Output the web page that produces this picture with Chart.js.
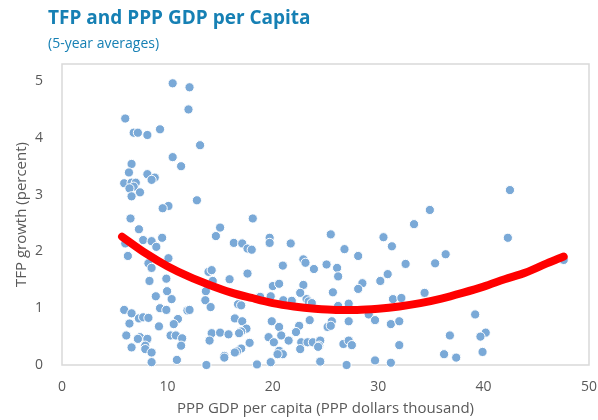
<!DOCTYPE html>
<html>
<head>
<meta charset="utf-8">
<script src="https://cdn.jsdelivr.net/npm/chart.js@4.4.1/dist/chart.umd.min.js"></script>
<style>
html,body{margin:0;padding:0;background:#fff;}
#wrap{width:598px;height:420px;position:relative;}
</style>
</head>
<body>
<div id="wrap"><canvas id="c" width="598" height="420"></canvas></div>
<script>
// ---- Data ----
const chartTitle = "TFP and PPP GDP per Capita";
const chartSubtitle = "(5-year averages)";
const xAxisTitle = "PPP GDP per capita (PPP dollars thousand)";
const yAxisTitle = "TFP growth (percent)";

const xTicks = [0, 10, 20, 30, 40, 50];
const yTicks = [0, 1, 2, 3, 4, 5];

// Scatter: GDP per capita (thousand PPP $)
const gdpX = [
 10.5, 6.0, 6.8, 7.2, 8.1, 9.3, 12.0, 12.1, 13.1, 10.5, 11.3, 6.6, 6.35, 8.1, 8.8, 8.5, 5.9, 6.6, 7.0, 6.8,
 6.4, 7.4, 6.6, 10.1, 9.55, 6.5, 7.3, 7.7, 8.5, 9.5, 8.95, 6.0, 6.25, 8.2, 8.5, 10.1, 8.3, 9.9, 8.9, 9.97,
 10.4, 9.3, 9.9, 5.9, 6.6, 7.3, 7.7, 8.2, 6.4, 11.0, 10.6, 9.2, 6.1, 7.4, 7.2, 8.1, 10.3, 10.8, 11.4, 7.9,
 7.9, 6.6, 8.5, 11.3, 8.5, 10.9, 12.8, 18.1, 15.0, 14.6, 16.3, 17.1, 17.6, 18.0, 19.7, 19.7, 21.7, 22.9, 20.95, 13.9,
 14.2, 14.3, 17.6, 15.9, 13.65, 13.6, 14.1, 20.0, 20.6, 19.8, 18.8, 16.7, 17.0, 21.0, 21.8, 22.9, 23.2, 11.9, 12.1, 16.4,
 17.1, 17.5, 17.0, 16.8, 19.9, 20.6, 22.5, 20.8, 19.6, 20.1, 22.2, 21.5, 22.7, 22.6, 14.2, 14.0, 15.0, 15.8, 17.8, 17.0,
 16.6, 16.4, 15.4, 15.4, 13.7, 18.5, 19.8, 20.6, 20.95, 20.45, 33.4, 25.5, 30.5, 31.3, 26.8, 28.1, 23.1, 25.1, 23.9, 26.1,
 26.2, 32.6, 30.9, 30.2, 28.5, 28.1, 22.6, 25.7, 23.4, 23.7, 26.2, 27.2, 31.4, 32.2, 34.4, 29.1, 29.7, 23.5, 25.6, 27.2,
 25.2, 25.5, 31.2, 32.0, 23.3, 23.8, 24.5, 24.4, 24.3, 26.7, 27.2, 27.5, 32.0, 24.5, 27.0, 29.7, 31.2, 42.5, 34.9, 42.3,
 36.4, 35.4, 47.6, 39.2, 36.8, 40.2, 39.7, 36.25, 37.4, 39.9
];
// Scatter: TFP growth (percent)
const tfpY = [
 4.96, 4.34, 4.09, 4.09, 4.05, 4.15, 4.50, 4.89, 3.87, 3.66, 3.50, 3.54, 3.39, 3.36, 3.30, 3.26, 3.20, 3.21, 3.21, 3.14,
 3.11, 3.04, 2.97, 2.80, 2.76, 2.58, 2.39, 2.20, 2.18, 2.24, 2.08, 2.14, 1.92, 1.79, 1.71, 1.88, 1.48, 1.52, 1.21, 1.30,
 1.16, 1.00, 0.97, 0.97, 0.91, 0.82, 0.84, 0.83, 0.73, 0.81, 0.72, 0.68, 0.52, 0.49, 0.46, 0.46, 0.52, 0.52, 0.47, 0.34,
 0.28, 0.31, 0.22, 0.34, 0.05, 0.09, 2.90, 2.58, 2.42, 2.27, 2.15, 2.14, 2.05, 2.03, 2.24, 2.15, 2.14, 1.86, 1.75, 1.64,
 1.67, 1.48, 1.61, 1.51, 1.30, 1.14, 1.02, 1.39, 1.43, 1.21, 1.20, 1.07, 1.05, 1.14, 1.13, 1.41, 1.16, 0.96, 0.97, 0.82,
 0.77, 0.64, 0.59, 0.56, 0.77, 0.67, 0.69, 0.52, 0.49, 0.40, 0.58, 0.43, 0.40, 0.28, 0.56, 0.43, 0.57, 0.54, 0.39, 0.29,
 0.24, 0.22, 0.16, 0.13, 0.00, 0.01, 0.05, 0.25, 0.19, 0.19, 2.48, 2.30, 2.25, 2.09, 2.04, 1.92, 1.80, 1.77, 1.69, 1.71,
 1.56, 1.78, 1.60, 1.48, 1.44, 1.34, 1.27, 1.28, 1.12, 1.09, 1.04, 1.08, 1.16, 1.18, 1.27, 0.89, 0.79, 0.79, 0.77, 0.77,
 0.67, 0.69, 0.72, 0.77, 0.40, 0.40, 0.43, 0.34, 0.32, 0.37, 0.43, 0.35, 0.35, 0.06, 0.00, 0.08, 0.04, 3.08, 2.73, 2.24,
 1.95, 1.79, 1.85, 0.89, 0.52, 0.57, 0.50, 0.19, 0.13, 0.23
];

// Trend curve (polynomial fit)
const trendX = [5.7, 8, 10, 12, 14, 16, 18, 20, 22, 24, 26, 28, 30, 32, 34, 36, 38, 40, 42, 44, 46, 47.6];
const trendY = [2.26, 1.96, 1.74, 1.56, 1.41, 1.28, 1.18, 1.09, 1.03, 0.99, 0.97, 0.97, 0.99, 1.03, 1.09, 1.17, 1.27, 1.38, 1.51, 1.63, 1.79, 1.91];

// ---- Chart ----
const FONT = "'Open Sans', 'Noto Sans', sans-serif";
const scatterPts = gdpX.map((x, i) => ({x: x, y: tfpY[i]}));
const trendPts = trendX.map((x, i) => ({x: x, y: trendY[i]}));

const frameAndTitles = {
  id: 'frameAndTitles',
  beforeDatasetsDraw(chart) {
    const {ctx, chartArea: a} = chart;
    ctx.save();
    ctx.strokeStyle = '#d9d9d9';
    ctx.lineWidth = 1.5;
    ctx.strokeRect(a.left, a.top, a.right - a.left, a.bottom - a.top);
    ctx.restore();
  },
  afterDraw(chart) {
    const ctx = chart.ctx;
    ctx.save();
    ctx.fillStyle = '#1680b4';
    ctx.textBaseline = 'middle';
    ctx.textAlign = 'left';
    ctx.font = "bold 19px " + FONT;
    ctx.fillText(chartTitle, 48, 19);
    ctx.font = "14px " + FONT;
    ctx.fillText(chartSubtitle, 48, 44);
    ctx.restore();
  }
};

new Chart(document.getElementById('c'), {
  type: 'scatter',
  data: {
    datasets: [
      {
        type: 'line',
        data: trendPts,
        borderColor: '#ff0000',
        borderWidth: 8,
        borderCapStyle: 'round',
        pointRadius: 0,
        fill: false,
        tension: 0.4,
        cubicInterpolationMode: 'monotone',
        order: 0
      },
      {
        data: scatterPts,
        backgroundColor: '#7aa9d7',
        borderColor: '#ffffff',
        borderWidth: 1,
        pointRadius: 4.6,
        clip: false,
        order: 1
      }
    ]
  },
  options: {
    responsive: false,
    animation: false,
    devicePixelRatio: 1,
    layout: {padding: {top: 64, right: 9, left: 0, bottom: 0}},
    plugins: {legend: {display: false}, tooltip: {enabled: false}},
    scales: {
      x: {
        type: 'linear',
        min: xTicks[0], max: xTicks[xTicks.length - 1],
        afterBuildTicks: s => { s.ticks = xTicks.map(v => ({value: v})); },
        afterFit: s => { s.height = 55; s.paddingLeft = 0; s.paddingRight = 0; },
        grid: {display: false, drawTicks: false},
        border: {display: false},
        ticks: {padding: 14, color: '#595959', font: {family: FONT, size: 14}, maxRotation: 0},
        title: {display: true, text: xAxisTitle, color: '#595959', font: {family: FONT, size: 15}, padding: {top: 0, bottom: 2}}
      },
      y: {
        type: 'linear',
        min: 0, max: 5.3,
        afterBuildTicks: s => { s.ticks = yTicks.map(v => ({value: v})); },
        afterFit: s => { s.width = 62; s.paddingTop = 0; s.paddingBottom = 0; },
        grid: {display: false, drawTicks: false},
        border: {display: false},
        ticks: {padding: 19, color: '#595959', font: {family: FONT, size: 14}},
        title: {display: true, text: yAxisTitle, color: '#595959', font: {family: FONT, size: 15}, padding: {top: 13, bottom: 0}}
      }
    }
  },
  plugins: [frameAndTitles]
});
</script>
</body>
</html>
